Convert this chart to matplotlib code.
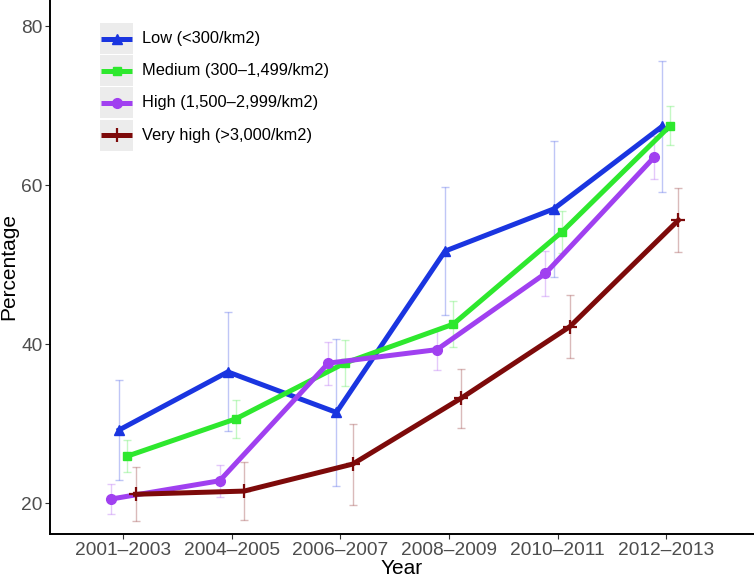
import numpy as np
import matplotlib
matplotlib.use("Agg")
import matplotlib.pyplot as plt
from matplotlib.patches import Rectangle

plt.rcParams['font.family'] = ['Liberation Sans', 'DejaVu Sans']

years = ["2001\u20132003", "2004\u20132005", "2006\u20132007",
         "2008\u20132009", "2010\u20132011", "2012\u20132013"]

groups = ["Low (<300/km2)", "Medium (300\u20131,499/km2)",
          "High (1,500\u20132,999/km2)", "Very high (>3,000/km2)"]

low = [29.2, 36.5, 31.4, 51.7, 57.0, 67.4]
low_err = [6.3, 7.5, 9.3, 8.1, 8.6, 8.2]
medium = [25.9, 30.6, 37.6, 42.5, 54.1, 67.5]
medium_err = [2.0, 2.4, 2.9, 2.9, 2.6, 2.5]
high = [20.5, 22.8, 37.6, 39.3, 48.9, 63.5]
high_err = [1.9, 2.0, 2.7, 2.5, 2.8, 2.7]
very_high = [21.1, 21.5, 24.9, 33.2, 42.2, 55.6]
very_high_err = [3.4, 3.7, 5.1, 3.7, 4.0, 4.0]

# values, errors, colour, marker, marker size, marker edge width
series = [
    (low, low_err, '#1a35e0', '^', 7, 1),
    (medium, medium_err, '#2ee82e', 's', 6, 1),
    (high, high_err, '#a040f0', 'o', 7, 1),
    (very_high, very_high_err, '#7d0a0a', '+', 10, 1.6),
]
# ggplot-style dodge, groups ordered alphabetically (High, Low, Medium, Very high)
dodge = [-0.0375, 0.0375, -0.1125, 0.1125]

fig = plt.figure(figsize=(7.54, 5.77), dpi=100)
ax = fig.add_axes([50 / 754, 43 / 577, 704 / 754, 534 / 577])

x = np.arange(len(years))
for i, (vals, errs, col, mk, ms, mew) in enumerate(series):
    xs = x + dodge[i]
    ax.errorbar(xs, vals, yerr=errs, fmt='none', ecolor=col, alpha=0.28,
                elinewidth=1.0, capsize=3, capthick=1.0, zorder=1)
    ax.plot(xs, vals, color=col, lw=3.6, marker=mk, markersize=ms,
            markeredgewidth=mew, markeredgecolor=col, zorder=3)

ax.set_xlim(-0.675, 5.808)
ax.set_ylim(16.1, 83.3)
ax.set_xticks(x)
ax.set_xticklabels(years)
ax.set_yticks([20, 40, 60, 80])

for s in ['top', 'right']:
    ax.spines[s].set_visible(False)
for s in ['left', 'bottom']:
    ax.spines[s].set_linewidth(1.4)
    ax.spines[s].set_color('black')
ax.tick_params(axis='both', labelsize=13.8, labelcolor='#4d4d4d',
               color='#333333', length=3.5, width=0.8, pad=2)

ax.set_xlabel("Year", fontsize=15, labelpad=0)
ax.set_ylabel("Percentage", fontsize=15)
ax.yaxis.set_label_coords(-0.0445, 0.5)

# legend drawn on a pixel-space overlay so the grey key boxes match ggplot
lg = fig.add_axes([0, 0, 1, 1], facecolor='none')
lg.set_xlim(0, 754)
lg.set_ylim(577, 0)
lg.axis('off')
for i, (vals, errs, col, mk, ms, mew) in enumerate(series):
    top = 23 + i * 32.2
    lg.add_patch(Rectangle((100, top), 33, 31, facecolor='#ececec', edgecolor='none'))
    lg.plot([101, 132], [top + 15.5] * 2, color=col, lw=3.6, marker='none',
            solid_capstyle='butt')
    lg.plot([116.5], [top + 15.5], color=col, marker=mk, markersize=ms,
            markeredgewidth=mew, markeredgecolor=col)
    lg.text(141.5, top + 15.5, groups[i], fontsize=11.8, va='center', ha='left',
            color='black')

fig.savefig("out.png", dpi=100)
